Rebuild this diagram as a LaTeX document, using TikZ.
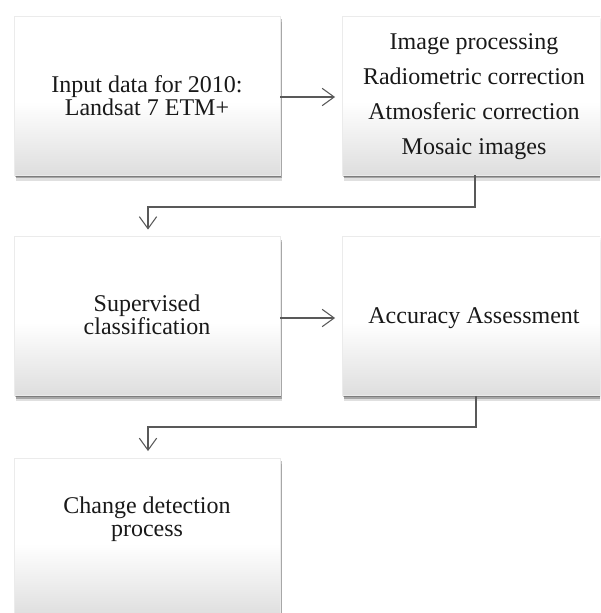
\documentclass[tikz,border=0pt]{standalone}
\usepackage{fontspec}
\setmainfont{Liberation Serif}
\usetikzlibrary{arrows.meta,shadows}
\pgfdeclareverticalshading{boxgrad}{100bp}{color(0bp)=(black!13); color(25bp)=(black!13); color(48bp)=(white); color(100bp)=(white)}
\tikzset{
  box/.style={rectangle, draw=black!8, line width=0.4pt, shading=boxgrad,
    minimum width=199.5pt, minimum height=119.25pt, inner sep=0pt,
    drop shadow={shadow xshift=0.6pt, shadow yshift=-1.2pt, fill=black, opacity=0.25},
    drop shadow={shadow xshift=1.2pt, shadow yshift=-2.6pt, fill=black, opacity=0.25},
    drop shadow={shadow xshift=1.8pt, shadow yshift=-4.2pt, fill=black, opacity=0.12}},
  txt/.style={align=center, font=\fontsize{18}{17.5}\selectfont, text=black!90, inner sep=0pt},
  wide/.style={align=center, font=\fontsize{18}{26.2}\selectfont, text=black!90, inner sep=0pt},
  conn/.style={draw=black!65, line width=0.8pt, -{Straight Barb[length=9pt,width=13pt,line width=0.8pt]}, shorten >=5pt},
}
\begin{document}
\begin{tikzpicture}[x=0.75pt,y=-0.75pt]
\useasboundingbox (0,0) rectangle (600,613);
\clip (0,0) rectangle (600,613);
\fill[white] (0,0) rectangle (600,613);
% boxes
\node[box] (b1) at (147,95.5) {};
\node[box] (b2) at (475,95.5) {};
\node[box] (b3) at (147,316) {};
\node[box] (b4) at (475,316) {};
\node[box] (b5) at (147,537.5) {};
% texts
\node[txt] (t1) at (147,96) {Input data for 2010:\\Landsat 7 ETM+};
\node[wide] (t2) at (474,97) {Image processing\\Radiometric correction\\Atmosferic correction\\Mosaic images};
\node[txt] (t3) at (147,315) {Supervised\\classification};
\node[txt] (t4) at (474,318) {Accuracy Assessment};
\node[txt] (t5) at (147,519) {Change detection\\process};
% connectors
\coordinate (c1) at (475,207);
\coordinate (c2) at (148,207);
\coordinate (c3) at (476,427);
\coordinate (c4) at (148,427);
\draw[conn] (b1.east |- 0,97) -- (b2.west |- 0,97);
\draw[conn] (b2.south -| c1) -- (c1) -- (c2) -- (c2 |- b3.north);
\draw[conn] (b3.east |- 0,318) -- (b4.west |- 0,318);
\draw[conn] (b4.south -| c3) -- (c3) -- (c4) -- (c4 |- b5.north);
\end{tikzpicture}
\end{document}
